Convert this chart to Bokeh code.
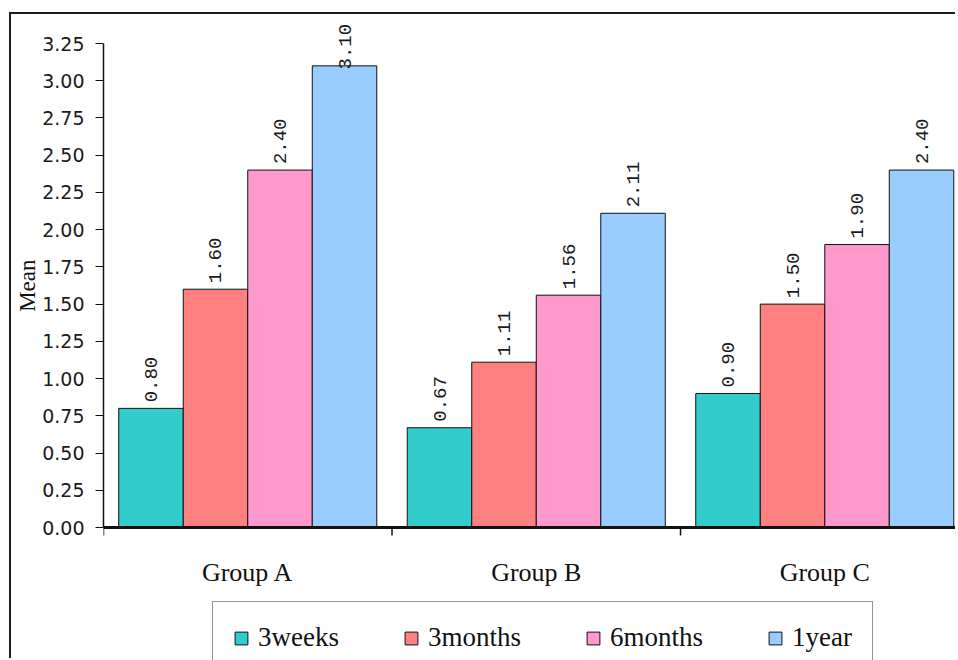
import math

from bokeh.core.properties import value
from bokeh.embed import file_html
from bokeh.models import (ColumnDataSource, FixedTicker, LabelSet, Legend,
                          LegendItem, PrintfTickFormatter, Range1d, Span,
                          Title)
from bokeh.plotting import figure
from bokeh.resources import INLINE

# ---- data -------------------------------------------------------------
GROUPS = ["Group A", "Group B", "Group C"]
PERIODS = ["3weeks", "3months", "6months", "1year"]
WEEKS_3 = [0.80, 0.67, 0.90]
MONTHS_3 = [1.60, 1.11, 1.50]
MONTHS_6 = [2.40, 1.56, 1.90]
YEAR_1 = [3.10, 2.11, 2.40]
SERIES = [WEEKS_3, MONTHS_3, MONTHS_6, YEAR_1]
COLORS = ["#33CCCC", "#FF8080", "#FF99CC", "#99CCFF"]
Y_TICKS = [0.00, 0.25, 0.50, 0.75, 1.00, 1.25, 1.50, 1.75,
           2.00, 2.25, 2.50, 2.75, 3.00, 3.25]

# ---- layout constants -------------------------------------------------
W, H = 946, 646
AXIS_PX = 484        # height of the value axis, 0 .. top tick
HEADROOM_PX = 21     # room above the axis for value labels
BELOW_PX = 133       # room under the category axis (group names, legend)
BORDER_LEFT = 92
BORDER_TOP = H - AXIS_PX - HEADROOM_PX - BELOW_PX
Y_MAX = Y_TICKS[-1]
ppu = AXIS_PX / Y_MAX
Y_TOP = Y_MAX + HEADROOM_PX / ppu
Y_BOTTOM = -BELOW_PX / ppu
X_END = 2.96
BAR_W = 0.2236
LABEL_GAP = 6        # px between bar top and its value label
LABEL_LEN = 46       # px length of a rotated value label
TICK_PX = 8          # length of the category separator ticks
GROUP_LABEL_PX = 45  # distance of the group names under the axis
TITLE_LEN = 52       # px length of the rotated axis title
# the axis title is centred on the value axis, not on the whole frame
TITLE_OFFSET = HEADROOM_PX + AXIS_PX / 2 - TITLE_LEN / 2

SERIF = "Liberation Serif"
INK = "#111111"

p = figure(width=W, height=H, output_backend="svg", toolbar_location=None,
           x_range=Range1d(0, X_END), y_range=Range1d(Y_BOTTOM, Y_TOP),
           x_axis_location=None,
           min_border_left=BORDER_LEFT, min_border_top=BORDER_TOP,
           min_border_right=0, min_border_bottom=0)
p.styles = {"margin-left": "9px", "margin-top": "12px",
            "border-left": "2px solid #1e1e1e",
            "border-top": "2px solid #1e1e1e"}
p.outline_line_color = None
p.grid.visible = False
p.background_fill_color = "white"
p.border_fill_color = "white"

# ---- bars ---------------------------------------------------------------
centers = [g + 0.5 for g in range(len(GROUPS))]
items = []
lx, ly, lt = [], [], []
for k, (name, vals, col) in enumerate(zip(PERIODS, SERIES, COLORS)):
    xs = [c + (k - 1.5) * BAR_W for c in centers]
    r = p.vbar(x=xs, top=vals, width=BAR_W, bottom=0,
               fill_color=col, line_color=INK, line_width=1)
    items.append(LegendItem(label=name, renderers=[r]))
    for x, v in zip(xs, vals):
        # labels that would leave the chart are pulled down onto the bar
        start = min(v * ppu + LABEL_GAP, AXIS_PX + HEADROOM_PX - LABEL_LEN - 1)
        lx.append(x)
        ly.append(start / ppu)
        lt.append(f"{v:.2f}")

labels = LabelSet(x="x", y="y", text="t", angle=math.pi / 2,
                  text_align="left", text_baseline="middle",
                  text_font=value("Liberation Mono"), text_font_size="19px",
                  text_color="#1a1a1a",
                  source=ColumnDataSource(dict(x=lx, y=ly, t=lt)))
p.add_layout(labels)

# ---- category axis: base line, separator ticks, group names ----------------
p.add_layout(Span(location=0, dimension="width", line_color=INK, line_width=3))
bounds = [float(g) for g in range(len(GROUPS) + 1)]
p.segment(x0=bounds, y0=[0] * len(bounds), x1=bounds,
          y1=[-TICK_PX / ppu] * len(bounds), line_color=INK, line_width=1.5)
p.text(x=centers, y=[-GROUP_LABEL_PX / ppu] * len(centers), text=GROUPS,
       text_align="center", text_baseline="middle",
       text_font=value(SERIF), text_font_size="26px", text_color=INK)

# ---- value axis -------------------------------------------------------------
ya = p.yaxis[0]
ya.ticker = FixedTicker(ticks=Y_TICKS, minor_ticks=[])
ya.bounds = (0, Y_MAX)
ya.formatter = PrintfTickFormatter(format="%.2f")
ya.major_label_text_font = "DejaVu Sans"
ya.major_label_text_font_size = "19px"
ya.major_label_text_color = "#1a1a1a"
ya.major_label_standoff = 11
ya.major_tick_out = 8
ya.major_tick_in = 0
ya.major_tick_line_color = INK
ya.axis_line_color = INK
ya.axis_line_width = 1.5

p.add_layout(Title(text="Mean", align="right", offset=TITLE_OFFSET,
                   standoff=0, text_font=SERIF, text_font_size="23px",
                   text_font_style="normal", text_color=INK), "left")

# ---- legend ---------------------------------------------------------------
legend = Legend(items=items, orientation="horizontal",
                location=(109, -14),
                border_line_color="#2a2a2a", border_line_width=1.5,
                padding=20, spacing=64, margin=0,
                glyph_width=16, glyph_height=16, label_standoff=9,
                label_height=30,
                label_text_font=SERIF, label_text_font_size="27px",
                label_text_color=INK,
                background_fill_color="white", background_fill_alpha=1)
p.add_layout(legend, "center")

open("out.html", "w").write(file_html(p, INLINE))
